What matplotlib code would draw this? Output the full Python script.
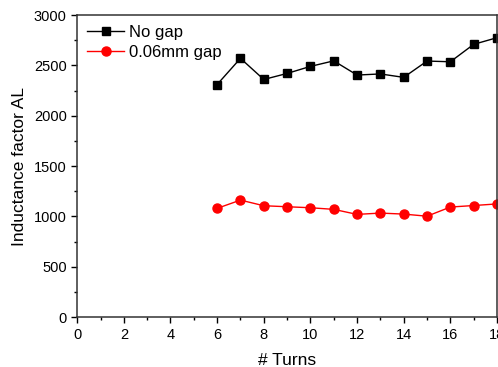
import matplotlib
matplotlib.use('Agg')
import matplotlib.pyplot as plt
from matplotlib.ticker import MultipleLocator

plt.rcParams['font.family'] = ['Liberation Sans', 'DejaVu Sans']

# Data
turns = [6, 7, 8, 9, 10, 11, 12, 13, 14, 15, 16, 17, 18]
al_no_gap = [2310, 2570, 2360, 2420, 2490, 2545, 2404, 2415, 2381, 2543, 2536, 2709, 2775]
al_gap_006 = [1080, 1162, 1106, 1096, 1086, 1070, 1020, 1033, 1023, 1002, 1093, 1108, 1124]

fig = plt.figure(figsize=(4.98, 3.67), dpi=100)
ax = fig.add_axes([0.155, 0.136, 0.843, 0.823])

ax.plot(turns, al_no_gap, color='black', marker='s', markersize=6, linewidth=1, label='No gap')
ax.plot(turns, al_gap_006, color='red', marker='o', markersize=6.5, linewidth=1, label='0.06mm gap')

ax.set_xlim(0, 18)
ax.set_ylim(0, 3000)
ax.xaxis.set_major_locator(MultipleLocator(2))
ax.xaxis.set_minor_locator(MultipleLocator(1))
ax.yaxis.set_major_locator(MultipleLocator(500))
ax.yaxis.set_minor_locator(MultipleLocator(250))
ax.tick_params(which='major', direction='out', length=4, width=1, labelsize=10.5)
ax.tick_params(which='minor', direction='out', length=2.5, width=1)
for s in ax.spines.values():
    s.set_linewidth(1.1)
    s.set_color('#333333')

ax.set_xlabel('# Turns', fontsize=12.5, labelpad=8)
ax.set_ylabel('Inductance factor AL', fontsize=12.5, labelpad=5)

ax.legend(loc='upper left', frameon=False, fontsize=12, handlelength=2.2,
          borderaxespad=0.2, handletextpad=0.3, labelspacing=0.3)

fig.savefig('out.png', dpi=100)
